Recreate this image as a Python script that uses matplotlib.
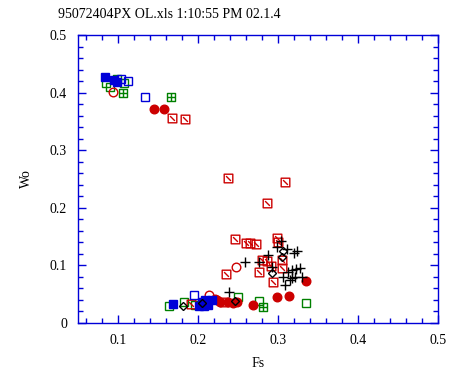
import matplotlib
matplotlib.use("Agg")
import matplotlib.pyplot as plt
from matplotlib.path import Path
from matplotlib.ticker import MultipleLocator

plt.rcParams['font.family'] = ['Liberation Serif', 'DejaVu Serif']

# data, (Fs, Wo) per marker group
blue_filled_fs = [0.084, 0.095, 0.099, 0.169, 0.201, 0.205, 0.2125, 0.2175, 0.209]
blue_filled_wo = [0.427, 0.422, 0.418, 0.033, 0.030, 0.036, 0.031, 0.040, 0.040]

blue_open_fs = [0.104, 0.1125, 0.134, 0.195, 0.2075]
blue_open_wo = [0.424, 0.420, 0.392, 0.049, 0.030]

green_open_fs = [0.085, 0.090, 0.1075, 0.164, 0.1825, 0.196, 0.210, 0.250, 0.276, 0.335]
green_open_wo = [0.417, 0.410, 0.417, 0.030, 0.036, 0.031, 0.038, 0.045, 0.038, 0.035]

green_plus_fs = [0.099, 0.106, 0.166, 0.281]
green_plus_wo = [0.424, 0.399, 0.392, 0.028]

red_filled_fs = [0.145, 0.1575, 0.335, 0.299, 0.314, 0.269, 0.221, 0.224, 0.2275, 0.2375, 0.244, 0.249]
red_filled_wo = [0.372, 0.372, 0.073, 0.045, 0.047, 0.031, 0.042, 0.040, 0.036, 0.036, 0.035, 0.036]

red_open_fs = [0.094, 0.2475, 0.214]
red_open_wo = [0.401, 0.097, 0.049]

red_diag_fs = [0.1675, 0.184, 0.2375, 0.309, 0.286, 0.246, 0.260, 0.265, 0.2725, 0.299, 0.300,
               0.280, 0.286, 0.291, 0.305, 0.305, 0.276, 0.294, 0.235, 0.191, 0.2325]
red_diag_wo = [0.356, 0.354, 0.252, 0.245, 0.208, 0.146, 0.139, 0.139, 0.137, 0.148, 0.141,
               0.109, 0.108, 0.099, 0.109, 0.095, 0.089, 0.071, 0.085, 0.033, 0.036]

black_plus_fs = [0.304, 0.299, 0.311, 0.320, 0.324, 0.259, 0.2875, 0.276, 0.306, 0.3125,
                 0.3175, 0.3225, 0.3275, 0.330, 0.3175, 0.321, 0.309, 0.315, 0.2925, 0.239]
black_plus_wo = [0.142, 0.132, 0.128, 0.122, 0.125, 0.106, 0.118, 0.106, 0.080, 0.089,
                 0.092, 0.094, 0.095, 0.080, 0.078, 0.080, 0.066, 0.075, 0.097, 0.054]

black_diamond_fs = [0.306, 0.305, 0.181, 0.205, 0.246, 0.2925]
black_diamond_wo = [0.125, 0.115, 0.030, 0.035, 0.038, 0.087]

blue = '#0000d8'
red = '#cc0000'
green = '#008000'

box_diag = Path([(-1, -1), (1, -1), (1, 1), (-1, 1), (-1, -1), (-0.55, 0.55), (0.55, -0.55)],
                [Path.MOVETO, Path.LINETO, Path.LINETO, Path.LINETO, Path.CLOSEPOLY,
                 Path.MOVETO, Path.LINETO])
box_plus = Path([(-1, -1), (1, -1), (1, 1), (-1, 1), (-1, -1), (-1, 0), (1, 0), (0, -1), (0, 1)],
                [Path.MOVETO, Path.LINETO, Path.LINETO, Path.LINETO, Path.CLOSEPOLY,
                 Path.MOVETO, Path.LINETO, Path.MOVETO, Path.LINETO])

fig = plt.figure(figsize=(4.69, 3.75), dpi=100)
ax = fig.add_axes([78 / 469, 1 - 323 / 375, 360 / 469, 288 / 375])

ms = 6.2
mew = 1.0
ax.plot(green_open_fs, green_open_wo, 's', ms=ms, mfc='none', mec=green, mew=mew)
ax.plot(green_plus_fs, green_plus_wo, marker=box_plus, ls='none', ms=ms, mfc='none', mec=green, mew=mew)
ax.plot(red_diag_fs, red_diag_wo, marker=box_diag, ls='none', ms=ms, mfc='none', mec=red, mew=mew)
ax.plot(red_open_fs, red_open_wo, 'o', ms=ms, mfc='none', mec=red, mew=mew)
ax.plot(red_filled_fs, red_filled_wo, 'o', ms=ms, mfc=red, mec=red, mew=mew)
ax.plot(blue_open_fs, blue_open_wo, 's', ms=ms, mfc='none', mec=blue, mew=mew)
ax.plot(blue_filled_fs, blue_filled_wo, 's', ms=ms, mfc=blue, mec=blue, mew=mew)
ax.plot(black_plus_fs, black_plus_wo, '+', ms=7.5, mec='black', mew=mew)
ax.plot(black_diamond_fs, black_diamond_wo, 'D', ms=4.5, mfc='none', mec='black', mew=mew)

ax.set_xlim(0.05, 0.5)
ax.set_ylim(0, 0.5)
ax.xaxis.set_major_locator(MultipleLocator(0.1))
ax.xaxis.set_minor_locator(MultipleLocator(0.02))
ax.yaxis.set_major_locator(MultipleLocator(0.1))
ax.yaxis.set_minor_locator(MultipleLocator(0.02))
ax.set_xticks([0.1, 0.2, 0.3, 0.4, 0.5])
ax.set_xticklabels(['0.1', '0.2', '0.3', '0.4', '0.5'])
ax.set_yticks([0, 0.1, 0.2, 0.3, 0.4, 0.5])
ax.set_yticklabels(['0', '0.1', '0.2', '0.3', '0.4', '0.5'])

for s in ax.spines.values():
    s.set_color(blue)
    s.set_linewidth(1.0)
ax.tick_params(which='both', direction='in', top=True, right=True, color=blue,
               labelsize=10, labelcolor='black', width=1)
ax.tick_params(which='major', length=6, pad=8)
ax.tick_params(which='minor', length=3.5)

ax.set_xlabel('Fs', fontsize=10, labelpad=7)
ax.set_ylabel('Wo', fontsize=10, labelpad=12)
fig.text(58 / 469, 1 - 14 / 375, '95072404PX OL.xls 1:10:55 PM 02.1.4', fontsize=10,
         ha='left', va='center')

fig.savefig('out.png', dpi=100)
